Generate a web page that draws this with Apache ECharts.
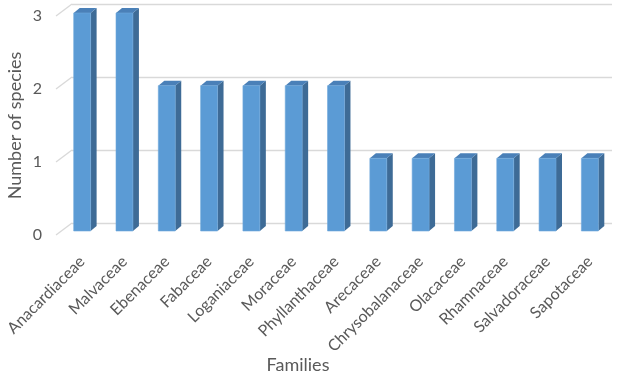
<!DOCTYPE html>
<html>
<head>
<meta charset="utf-8">
<script src="https://cdn.jsdelivr.net/npm/echarts@6/dist/echarts.min.js"></script>
<style>
  html, body { margin: 0; padding: 0; background: #fff; }
  #main { width: 624px; height: 374px; }
</style>
</head>
<body>
<div id="main"></div>
<script>
const families = ['Anacardiaceae', 'Malvaceae', 'Ebenaceae', 'Fabaceae', 'Loganiaceae', 'Moraceae',
  'Phyllanthaceae', 'Arecaceae', 'Chrysobalanaceae', 'Olacaceae', 'Rhamnaceae', 'Salvadoraceae', 'Sapotaceae'];
const speciesCount = [3, 3, 2, 2, 2, 2, 2, 1, 1, 1, 1, 1, 1];
const yTicks = [0, 1, 2, 3];

const FONT = 'Lato';
const TEXT = '#595959';
// 3d offset of the bar depth (px)
const DX = 6, DY = -5;

function renderBar(params, api) {
  const idx = api.value(0);
  const val = api.value(1);
  const base = api.coord([idx, 0]);
  const top = api.coord([idx, val]);
  const half = api.size([1, 0])[0] * 0.2;
  const x0 = base[0] - half, x1 = base[0] + half;
  const y0 = top[1], y1 = base[1];
  return {
    type: 'group',
    children: [
      { type: 'polygon', shape: { points: [[x1, y0], [x1 + DX, y0 + DY], [x1 + DX, y1 + DY], [x1, y1]] },
        style: { fill: '#3e6b96' } },
      { type: 'polygon', shape: { points: [[x0, y0], [x0 + DX, y0 + DY], [x1 + DX, y0 + DY], [x1, y0]] },
        style: { fill: '#4a80b8' } },
      { type: 'rect', shape: { x: x0, y: y0, width: x1 - x0, height: y1 - y0 },
        style: { fill: '#5b9bd5', stroke: '#6fa8dc', lineWidth: 0.6 } }
    ]
  };
}

function renderDiag(params, api) {
  const p = api.coord([0, api.value(0)]);
  return {
    type: 'line',
    shape: { x1: p[0], y1: p[1], x2: p[0] - 16, y2: p[1] + 12 },
    style: { stroke: '#d9d9d9', lineWidth: 1.3 }
  };
}

const chart = echarts.init(document.getElementById('main'));
chart.setOption({
  backgroundColor: '#fff',
  animation: false,
  textStyle: { fontFamily: FONT },
  grid: [
    { left: 61, right: 13, top: 13, bottom: 143, containLabel: false, outerBoundsMode: 'none' },
    { left: 72, right: 12, top: 4, bottom: 151, containLabel: false, outerBoundsMode: 'none' },
    { left: 56, right: 12, top: 16, bottom: 139, containLabel: false, outerBoundsMode: 'none' }
  ],
  xAxis: [
    {
      gridIndex: 0, type: 'category', data: families,
      axisLine: { show: false }, axisTick: { show: false },
      axisLabel: { rotate: 45, margin: 28, color: TEXT, fontSize: 16, fontFamily: FONT, interval: 0 },
      name: 'Families', nameLocation: 'middle', nameGap: 125, nameMoveOverlap: false,
      nameTextStyle: { color: TEXT, fontSize: 18, fontFamily: FONT, padding: [0, 76, 0, 0] }
    },
    { gridIndex: 1, type: 'value', min: 0, max: 1, show: false },
    { gridIndex: 2, type: 'value', min: 0, max: 1, show: false }
  ],
  yAxis: [
    { gridIndex: 0, type: 'value', min: 0, max: 3, interval: 1, show: false },
    {
      gridIndex: 1, type: 'value', min: 0, max: 3, interval: 1,
      axisLine: { show: false }, axisTick: { show: false }, axisLabel: { show: false },
      splitLine: { show: true, lineStyle: { color: '#d9d9d9', width: 1.3 } }
    },
    {
      gridIndex: 2, type: 'value', min: 0, max: 3, interval: 1,
      axisLine: { show: false }, axisTick: { show: false }, splitLine: { show: false },
      axisLabel: { margin: 14, color: TEXT, fontSize: 16, fontFamily: FONT },
      name: 'Number of species', nameLocation: 'middle', nameGap: 32, nameMoveOverlap: false,
      nameTextStyle: { color: TEXT, fontSize: 18, fontFamily: FONT }
    }
  ],
  series: [
    {
      type: 'custom', xAxisIndex: 1, yAxisIndex: 1,
      data: yTicks.map(v => [v]), encode: { y: 0 },
      renderItem: renderDiag, silent: true
    },
    {
      type: 'custom', xAxisIndex: 0, yAxisIndex: 0,
      data: speciesCount.map((v, i) => [i, v]), encode: { x: 0, y: 1 },
      renderItem: renderBar
    }
  ]
});
</script>
</body>
</html>
